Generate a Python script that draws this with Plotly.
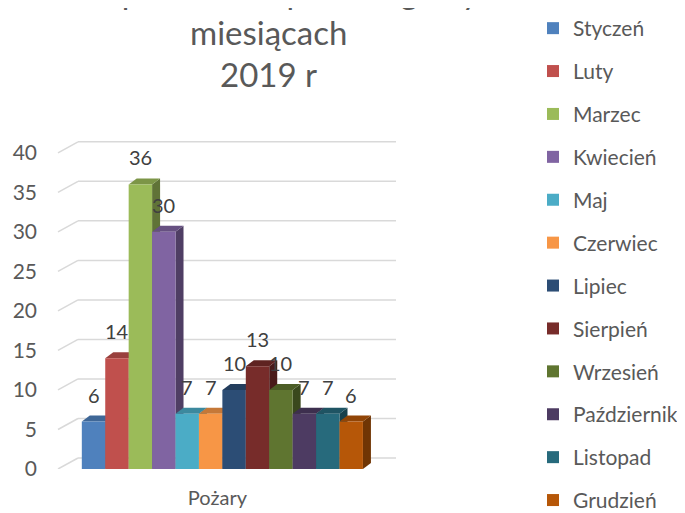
import plotly.graph_objects as go

# ---------------- data ----------------
months = ["Styczeń", "Luty", "Marzec", "Kwiecień", "Maj", "Czerwiec",
          "Lipiec", "Sierpień", "Wrzesień", "Październik", "Listopad", "Grudzień"]
fires = [6, 14, 36, 30, 7, 7, 10, 13, 10, 7, 7, 6]
colors = ["#4F81BD", "#C0504D", "#9BBB59", "#8064A2", "#4BACC6", "#F79646",
          "#2C4D75", "#772C2A", "#5F7530", "#4D3B62", "#276A7C", "#B65708"]
category = "Pożary"
y_ticks = [0, 5, 10, 15, 20, 25, 30, 35, 40]
title_lines = ["Liczba pożarów w poszczególnych", "miesiącach", "2019 r"]

# ---------------- layout constants ----------------
OFF = 8                       # default page (body) margin of the html page
W, H = 685 - OFF, 513 - OFF   # figure size so that it fills the window
PLOT_L, PLOT_R, PLOT_T, PLOT_B = 78 - OFF, 396 - OFF, 137 - OFF, 469 - OFF
ML, MR, MT, MB = PLOT_L, W - PLOT_R, PLOT_T, H - PLOT_B
PLOT_W = W - ML - MR
PLOT_H = H - MT - MB
Y_MAX = 42
X_START = -0.454
BARGAP = 0.116
FONT = "Lato"
TXT = "#595959"

px_per_y = PLOT_H / Y_MAX
px_per_x = PLOT_W / 1.0

# back-wall offset for gridlines (pixels)
GRID_DX, GRID_DY = 20, 11
# bar depth (pixels)
BAR_DX, BAR_DY = 8, 6
# title line centres (page pixels)
TITLE_Y = [-9 - OFF, 32 - OFF, 74 - OFF]
TITLE_X = 268 - OFF


def shade(hex_color, f):
    h = hex_color.lstrip("#")
    r, g, b = (int(h[i:i + 2], 16) for i in (0, 2, 4))
    return "#{:02x}{:02x}{:02x}".format(int(r * f), int(g * f), int(b * f))


fig = go.Figure()
for m, v, c in zip(months, fires, colors):
    fig.add_trace(go.Bar(
        x=[0], y=[v], name=m, legendgroup=m,
        marker=dict(color=c, line=dict(width=0)),
        hoverinfo="name+y",
    ))

shapes = []
# gridlines on the back wall + diagonal on the side wall
gy = GRID_DY / px_per_y
gx = -GRID_DX / PLOT_W
for t in y_ticks:
    shapes.append(dict(type="line", xref="paper", yref="y", x0=0, x1=1,
                       y0=t + gy, y1=t + gy, layer="below",
                       line=dict(color="#d9d9d9", width=1.5)))
    shapes.append(dict(type="line", xref="paper", yref="y", x0=gx, x1=0,
                       y0=t, y1=t + gy, layer="below",
                       line=dict(color="#d9d9d9", width=1.5)))

# 3D faces of the bars
n = len(fires)
bw = (1 - BARGAP) / n
left0 = -(1 - BARGAP) / 2
ddx = BAR_DX / px_per_x
ddy = BAR_DY / px_per_y
annotations = []
for i, (v, c) in enumerate(zip(fires, colors)):
    xl = left0 + i * bw
    xr = xl + bw
    top = f"M{xl},{v} L{xr},{v} L{xr + ddx},{v + ddy} L{xl + ddx},{v + ddy} Z"
    side = f"M{xr},0 L{xr + ddx},{ddy} L{xr + ddx},{v + ddy} L{xr},{v} Z"
    shapes.append(dict(type="path", path=side, xref="x", yref="y", layer="below",
                       fillcolor=shade(c, 0.62), line=dict(width=0)))
    shapes.append(dict(type="path", path=top, xref="x", yref="y", layer="below",
                       fillcolor=shade(c, 0.8), line=dict(width=0)))
    annotations.append(dict(x=(xl + xr) / 2, y=v, xref="x", yref="y",
                            text=str(v), showarrow=False, yanchor="bottom",
                            yshift=13, font=dict(family=FONT, size=20, color="#404040")))

# title (first line cropped by the top edge, as in the reference)
for line, yc in zip(title_lines, TITLE_Y):
    annotations.append(dict(
        text=line, xref="paper", yref="paper",
        x=(TITLE_X - ML) / PLOT_W, y=1 + (MT - yc) / PLOT_H,
        xanchor="center", yanchor="middle", showarrow=False, align="center",
        font=dict(family=FONT, size=33, color=TXT)))

fig.update_layout(
    width=W, height=H,
    margin=dict(l=ML, r=MR, t=MT, b=MB, pad=0, autoexpand=False),
    paper_bgcolor="white", plot_bgcolor="white",
    barmode="group", bargap=BARGAP, bargroupgap=0,
    shapes=shapes, annotations=annotations,
    showlegend=True,
    legend=dict(xref="container", yref="container", x=(533 - OFF) / W,
                y=1 - (5 - OFF) / H,
                xanchor="left", yanchor="top", orientation="v",
                font=dict(family=FONT, size=21, color=TXT), maxheight=2000,
                tracegroupgap=12.6, bgcolor="rgba(0,0,0,0)"),
    xaxis=dict(range=[X_START, X_START + 1], tickvals=[0], ticktext=[category],
               showgrid=False, zeroline=False, showline=False, ticks="",
               ticklabelstandoff=15, ticklabelshift=-5, automargin=False,
               tickfont=dict(family=FONT, size=20, color=TXT)),
    yaxis=dict(range=[0, Y_MAX], tickvals=y_ticks, showgrid=False, zeroline=False,
               showline=False, ticks="", ticklabelstandoff=40, automargin=False,
               tickfont=dict(family=FONT, size=21, color=TXT)),
    font=dict(family=FONT, color=TXT),
)

fig.write_html("out.html")
